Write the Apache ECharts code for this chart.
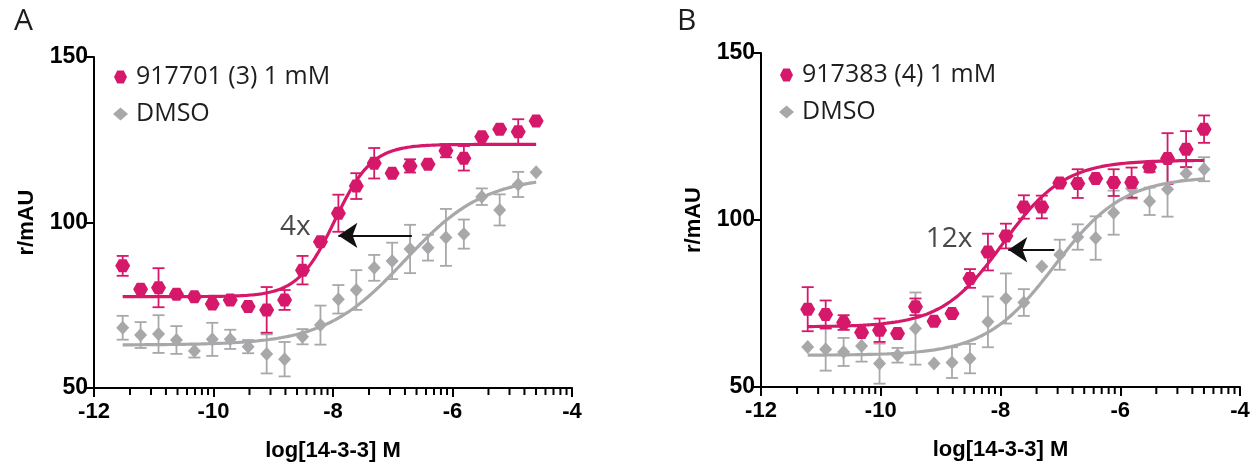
<!DOCTYPE html>
<html>
<head>
<meta charset="utf-8">
<script src="https://cdn.jsdelivr.net/npm/echarts@6/dist/echarts.min.js"></script>
<style>
html,body{margin:0;padding:0;background:#fff;}
#chart{width:1252px;height:465px;}
</style>
</head>
<body>
<div id="chart"></div>
<script>
// ---------- data ----------
const xA = [-11.52,-11.22,-10.92,-10.62,-10.32,-10.02,-9.72,-9.42,-9.11,-8.81,-8.51,-8.21,-7.91,-7.61,-7.31,-7.01,-6.71,-6.41,-6.11,-5.81,-5.51,-5.21,-4.90,-4.60];
const pinkA = [86.9,79.8,80.3,78.3,77.6,75.4,76.6,74.6,73.6,76.6,85.6,94.2,102.8,111.0,117.9,114.9,117.1,117.6,121.7,119.4,125.9,128.2,127.4,130.7];
const pinkAErr = [3.0,0,5.9,0,0,0,0,0,6.9,3.0,4.3,0,5.6,3.9,4.6,0,2.0,0,2.0,3.7,0,0,3.8,0];
const grayA = [68.2,66.0,66.3,64.5,61.2,64.7,64.7,62.5,60.3,58.7,65.5,69.0,76.8,79.6,86.3,88.4,92.0,92.4,95.5,96.5,107.8,103.8,111.5,115.2];
const grayAErr = [3.6,3.9,5.7,4.2,2.0,5.0,2.9,2.0,5.9,5.2,2.3,5.9,4.3,6.0,3.9,5.5,7.3,3.9,8.6,4.4,2.5,4.7,3.8,0];

const xB = [-11.22,-10.92,-10.62,-10.32,-10.02,-9.72,-9.42,-9.11,-8.81,-8.51,-8.21,-7.91,-7.61,-7.31,-7.01,-6.71,-6.41,-6.11,-5.81,-5.51,-5.21,-4.90,-4.60];
const pinkB = [73.3,71.7,69.3,66.3,67.0,66.0,74.0,69.7,72.0,82.5,90.4,95.2,103.9,103.9,111.1,110.9,112.4,111.2,111.2,115.9,118.4,121.2,127.2];
const pinkBErr = [6.6,4.2,2.2,0,3.5,0,2.5,0,0,2.8,5.5,3.7,3.5,3.4,0,4.3,0,4.0,4.5,1.5,7.6,5.4,4.1];
const grayB = [62.0,61.3,60.5,62.3,57.0,59.5,67.5,57.0,57.3,58.5,69.5,76.5,75.3,86.1,89.6,94.9,94.6,102.2,109.4,105.6,109.2,113.9,115.2];
const grayBErr = [0,6.4,4.2,4.7,6.0,2.2,10.8,0,4.6,4.4,7.6,7.5,4.0,0,4.5,3.8,6.5,6.6,3.0,4.1,8.2,2.0,3.6];

// four-parameter logistic fits: [bottom, top, logEC50, hill]
const fitPinkA = [77.6, 123.6, -7.97, 1.4];
const fitGrayA = [63.0, 114.0, -6.8, 0.65];
const fitPinkB = [68.0, 117.9, -7.96, 0.85];
const fitGrayB = [59.5, 113.0, -7.1, 0.75];

const namesA = ['917701 (3) 1 mM', 'DMSO'];
const namesB = ['917383 (4) 1 mM', 'DMSO'];
const xTicks = [-12, -10, -8, -6, -4];
const yTicks = [50, 100, 150];
// annotations: arrow [xStart, xEnd, y], label [x, y, text]
const arrowA = [-6.68, -7.91, 96.1];
const labelA = [-8.63, 98.6, '4x'];
const arrowB = [-7.10, -7.87, 91.1];
const labelB = [-8.86, 94.2, '12x'];

// ---------- styling ----------
const PINK = '#d6186a';
const GRAY = '#a8a8aa';
const HEX = 'path://M0,50 L25,0 L75,0 L100,50 L75,100 L25,100 Z';
const AXF = 'Liberation Sans';
const TXF = 'Open Sans';

function fitCurve(p, x0, x1) {
  const out = [];
  const n = 200;
  for (let i = 0; i <= n; i++) {
    const x = x0 + (x1 - x0) * i / n;
    const y = p[0] + (p[1] - p[0]) / (1 + Math.pow(10, (p[2] - x) * p[3]));
    out.push([x, y]);
  }
  return out;
}

// minor ticks: log spacing within each 2-unit major interval (axis decoration)
const minorTicks = [];
for (let m = xTicks[0]; m < xTicks[xTicks.length - 1]; m += 2) {
  for (let k = 2; k <= 9; k++) minorTicks.push(m + 2 * Math.log10(k));
}

function minorTickSeries(gi) {
  return {
    type: 'custom', xAxisIndex: gi, yAxisIndex: gi, z: 10, silent: true, clip: false,
    data: minorTicks.map(v => [v]),
    renderItem: function (params, api) {
      const p = api.coord([api.value(0), yTicks[0]]);
      return { type: 'line', shape: { x1: p[0], y1: p[1], x2: p[0], y2: p[1] + 7 },
        style: { stroke: '#000', lineWidth: 2 } };
    }
  };
}
function errSeries(xs, ys, es, color, gi) {
  return {
    type: 'custom', xAxisIndex: gi, yAxisIndex: gi, z: 2, silent: true,
    data: xs.map((x, i) => [x, ys[i], es[i]]),
    renderItem: function (params, api) {
      const x = api.value(0), y = api.value(1), e = api.value(2);
      if (!e) return null;
      const t = api.coord([x, y + e]), b = api.coord([x, y - e]);
      const hw = 6;
      const st = { stroke: color, lineWidth: 1.8 };
      return { type: 'group', children: [
        { type: 'line', shape: { x1: t[0], y1: t[1], x2: b[0], y2: b[1] }, style: st },
        { type: 'line', shape: { x1: t[0] - hw, y1: t[1], x2: t[0] + hw, y2: t[1] }, style: st },
        { type: 'line', shape: { x1: b[0] - hw, y1: b[1], x2: b[0] + hw, y2: b[1] }, style: st }
      ]};
    }
  };
}
function curveSeries(p, x0, x1, color, gi) {
  return { type: 'line', xAxisIndex: gi, yAxisIndex: gi, z: 3, showSymbol: false, silent: true,
    data: fitCurve(p, x0, x1), lineStyle: { color: color, width: 3.2 }, itemStyle: { color: color } };
}
function pointSeries(name, xs, ys, color, symbol, size, gi) {
  return { type: 'scatter', name: name, xAxisIndex: gi, yAxisIndex: gi, z: 4,
    symbol: symbol, symbolSize: size, itemStyle: { color: color, opacity: 1 },
    data: xs.map((x, i) => [x, ys[i]]) };
}
function arrowSeries(a, gi) {
  return { type: 'lines', coordinateSystem: 'cartesian2d', xAxisIndex: gi, yAxisIndex: gi, z: 5,
    symbol: ['none', 'arrow'], symbolSize: [15, 19], silent: true,
    lineStyle: { color: '#111', width: 2.2, opacity: 1 },
    data: [{ coords: [[a[0], a[2]], [a[1], a[2]]] }] };
}
function labelSeries(l, gi) {
  return { type: 'scatter', xAxisIndex: gi, yAxisIndex: gi, z: 6, silent: true,
    symbolSize: 1, itemStyle: { color: 'transparent' },
    label: { show: true, position: 'inside', formatter: l[2], fontFamily: TXF, fontSize: 28, color: '#1a1a1a' },
    data: [[l[0], l[1]]] };
}

function mainX(gi, name) {
  return { type: 'value', gridIndex: gi, min: xTicks[0], max: xTicks[xTicks.length - 1], interval: 2,
    position: 'bottom',
    axisLine: { show: true, onZero: false, lineStyle: { color: '#000', width: 2 } },
    axisTick: { show: true, length: 9, lineStyle: { color: '#000', width: 2 } },
    axisLabel: { show: true, margin: 13, fontFamily: AXF, fontWeight: 'bold', fontSize: 22, color: '#000' },
    splitLine: { show: false },
    name: name, nameLocation: 'middle', nameGap: 52,
    nameTextStyle: { fontFamily: AXF, fontWeight: 'bold', fontSize: 22, color: '#000' } };
}
function mainY(gi) {
  return { type: 'value', gridIndex: gi, min: yTicks[0], max: yTicks[yTicks.length - 1], interval: 50,
    axisLine: { show: true, onZero: false, lineStyle: { color: '#000', width: 2 } },
    axisTick: { show: true, length: 10, lineStyle: { color: '#000', width: 2 } },
    axisLabel: { show: true, margin: 6, fontFamily: AXF, fontWeight: 'bold', fontSize: 23, color: '#000' },
    splitLine: { show: false },
    name: 'r/mAU', nameLocation: 'middle', nameGap: 56,
    nameTextStyle: { fontFamily: AXF, fontWeight: 'bold', fontSize: 22, color: '#000' } };
}
function legend(names, left, top) {
  return { show: true, orient: 'vertical', left: left, top: top, itemGap: 11,
    itemWidth: 15, itemHeight: 13, selectedMode: false,
    textStyle: { fontFamily: TXF, fontSize: 25, color: '#1e1e1e', lineHeight: 26, padding: [0, 0, 0, 3] },
    data: [{ name: names[0], icon: HEX, itemStyle: { color: PINK } },
           { name: names[1], icon: 'diamond', itemStyle: { color: GRAY } }] };
}

const option = {
  animation: false,
  backgroundColor: '#fff',
  grid: [
    { left: 94, right: 680, top: 57, bottom: 77, outerBoundsMode: 'none', containLabel: false },
    { left: 761, right: 12, top: 53, bottom: 78, outerBoundsMode: 'none', containLabel: false }
  ],
  xAxis: [mainX(0, 'log[14-3-3] M'), mainX(1, 'log[14-3-3] M')],
  yAxis: [mainY(0), mainY(1)],
  legend: [legend(namesA, 108, 59), legend(namesB, 774, 57)],
  graphic: [
    { type: 'text', left: 14, top: 6, style: { text: 'A', fontFamily: TXF, fontSize: 30, fill: '#1e1e1e' } },
    { type: 'text', left: 677, top: 6, style: { text: 'B', fontFamily: TXF, fontSize: 30, fill: '#1e1e1e' } }
  ],
  series: [
    minorTickSeries(0),
    errSeries(xA, grayA, grayAErr, GRAY, 0),
    curveSeries(fitGrayA, xA[0], xA[xA.length - 1], GRAY, 0),
    pointSeries(namesA[1], xA, grayA, GRAY, 'diamond', [13, 14], 0),
    errSeries(xA, pinkA, pinkAErr, PINK, 0),
    curveSeries(fitPinkA, xA[0], xA[xA.length - 1], PINK, 0),
    pointSeries(namesA[0], xA, pinkA, PINK, HEX, [15, 13], 0),
    arrowSeries(arrowA, 0),
    labelSeries(labelA, 0),

    minorTickSeries(1),
    errSeries(xB, grayB, grayBErr, GRAY, 1),
    curveSeries(fitGrayB, xB[0], xB[xB.length - 1], GRAY, 1),
    pointSeries(namesB[1], xB, grayB, GRAY, 'diamond', [13, 14], 1),
    errSeries(xB, pinkB, pinkBErr, PINK, 1),
    curveSeries(fitPinkB, xB[0], xB[xB.length - 1], PINK, 1),
    pointSeries(namesB[0], xB, pinkB, PINK, HEX, [15, 13], 1),
    arrowSeries(arrowB, 1),
    labelSeries(labelB, 1)
  ]
};

const chart = echarts.init(document.getElementById('chart'), null, { renderer: 'canvas' });
chart.setOption(option);
</script>
</body>
</html>
